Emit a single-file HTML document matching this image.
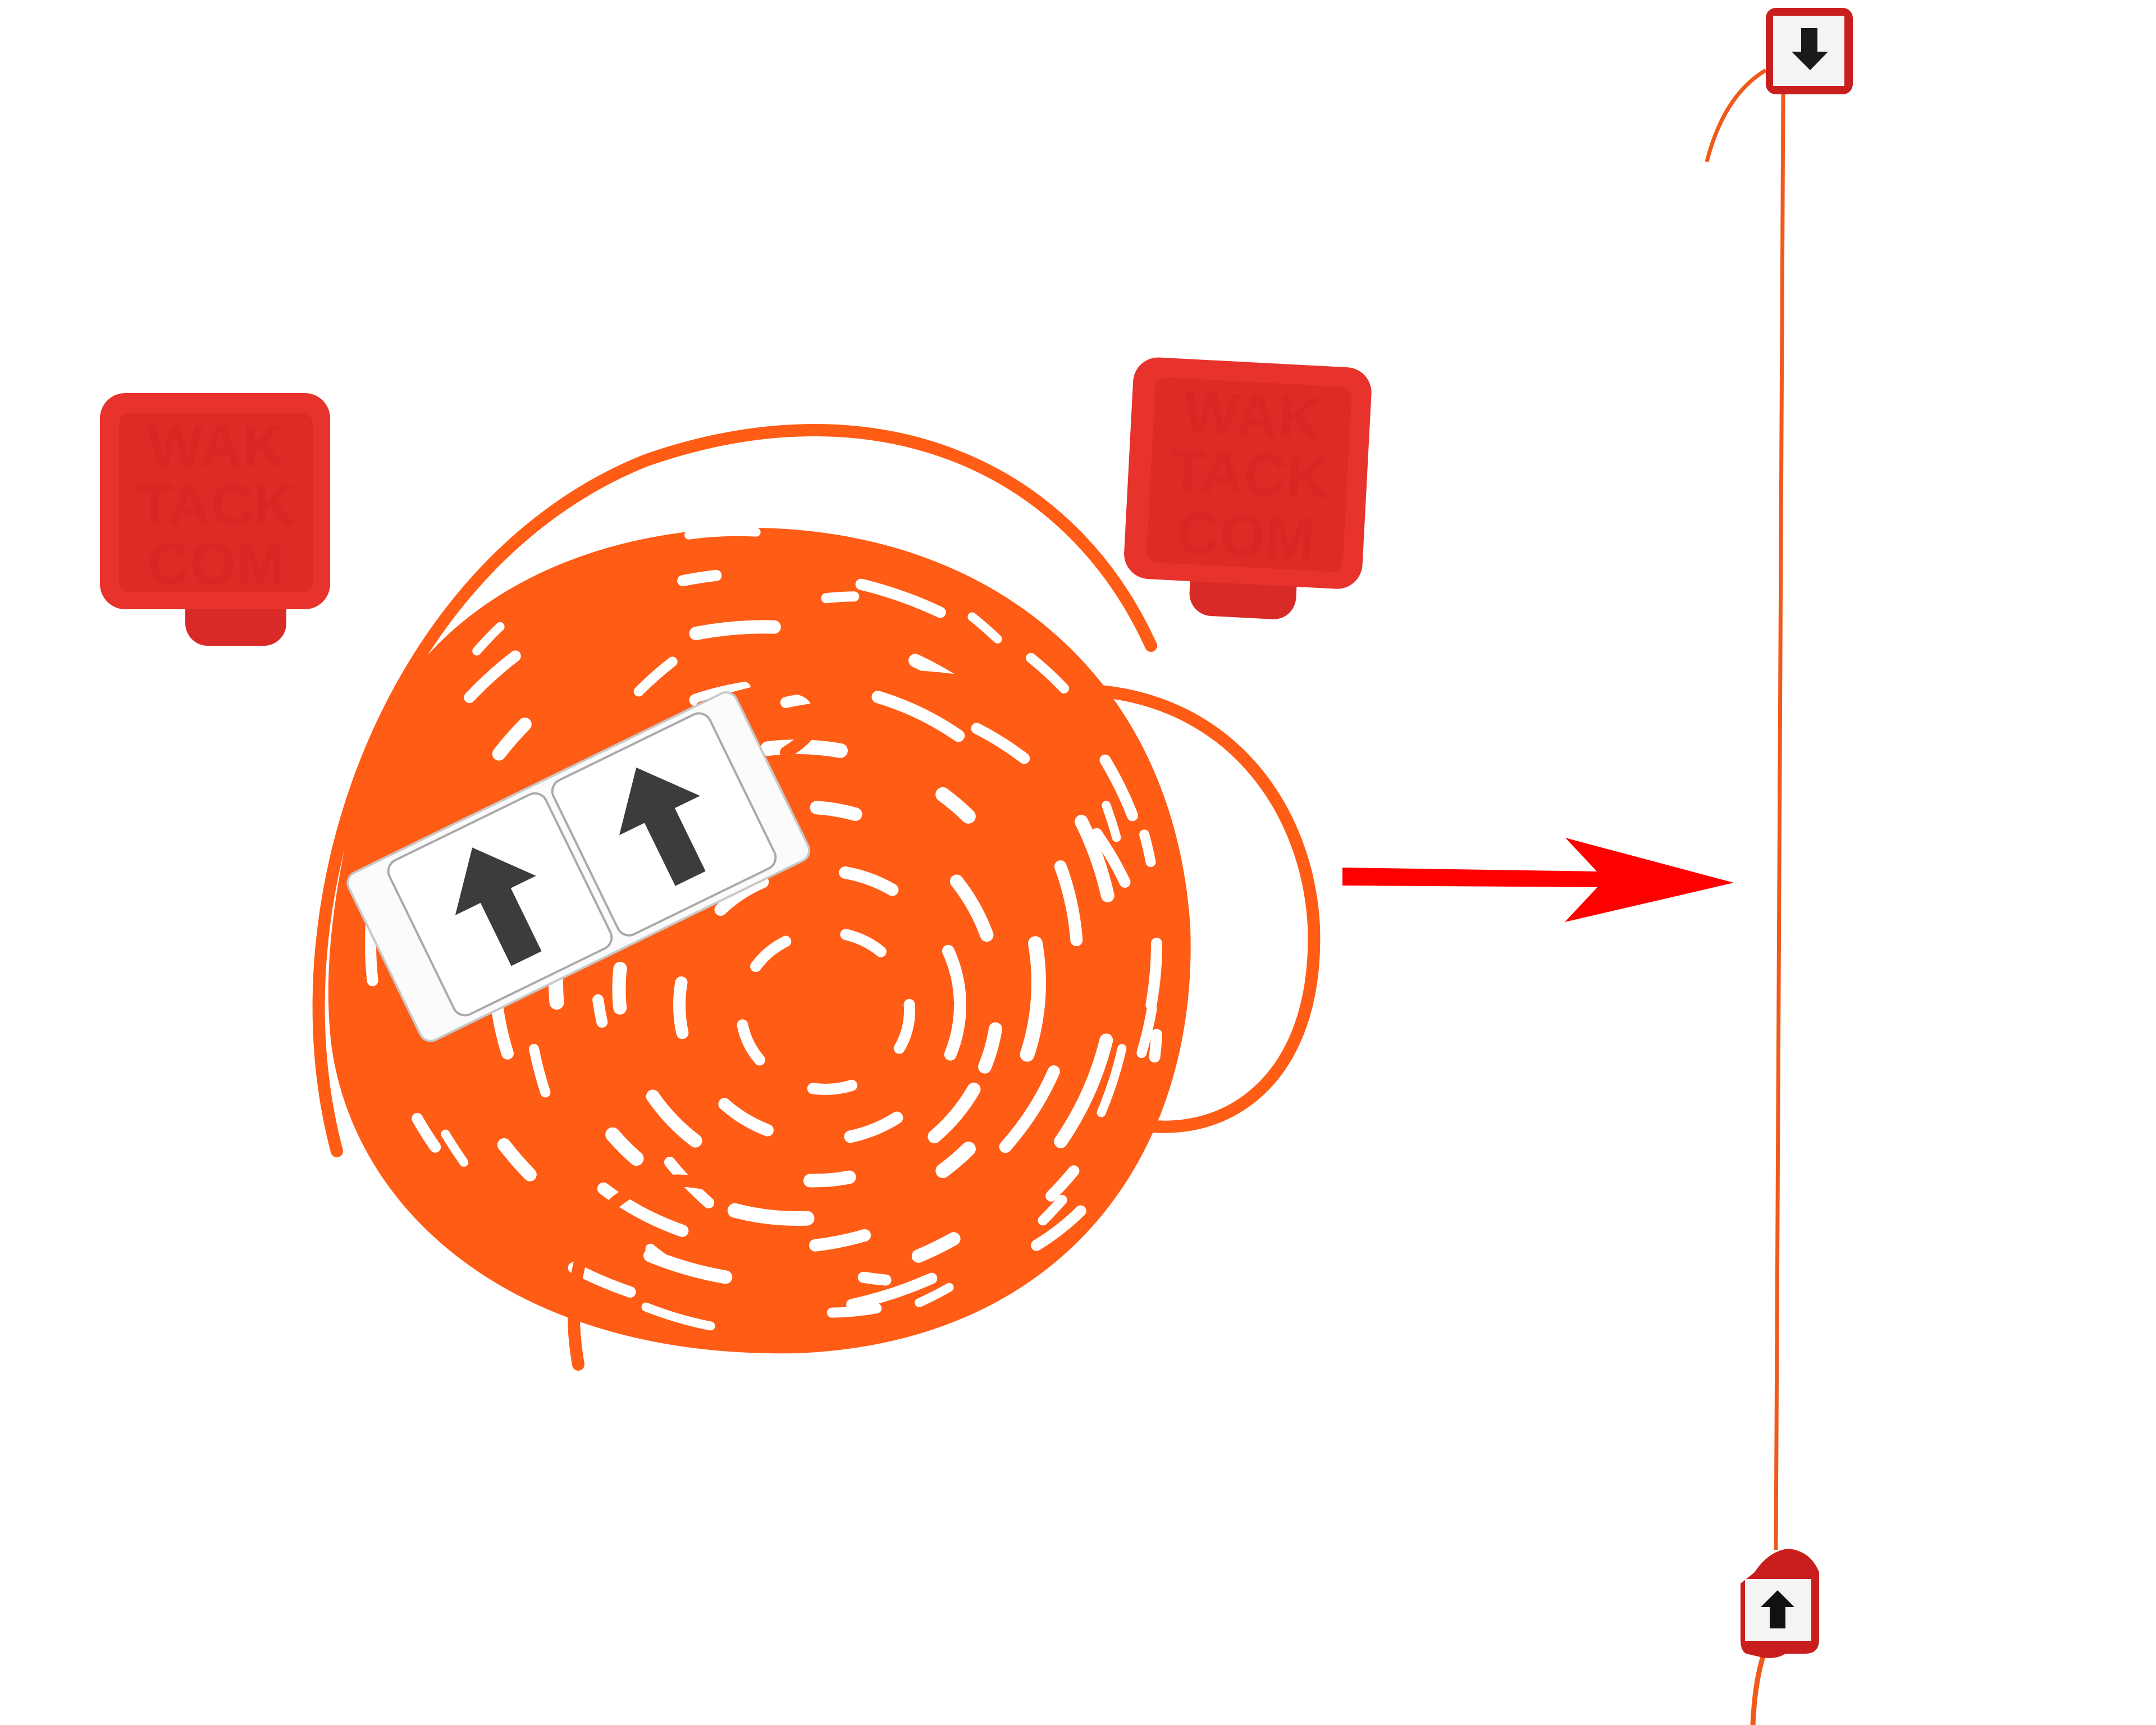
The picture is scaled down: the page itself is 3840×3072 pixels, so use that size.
<!DOCTYPE html>
<html><head><meta charset="utf-8"><style>
html,body{margin:0;padding:0;background:#fff;}
svg{display:block;}
</style></head><body>
<svg width="3840" height="3072" viewBox="0 0 3840 3072" xmlns="http://www.w3.org/2000/svg">
<rect width="3840" height="3072" fill="#fff"/>
<!-- left red block -->
<rect x="330" y="1040" width="180" height="110" rx="40" fill="#d82a26"/>
<rect x="178" y="700" width="410" height="385" rx="45" fill="#e8322c"/>
<rect x="212" y="735" width="345" height="320" rx="20" fill="#df2b26"/>
<g font-family="Liberation Sans, sans-serif" font-size="105" font-weight="bold" fill="#d42420" opacity="0.45" text-anchor="middle">
<text x="385" y="830">WAK</text><text x="385" y="935">TACK</text><text x="385" y="1040">COM</text></g>
<!-- right red block -->
<g transform="rotate(3 2220 840)">
<rect x="2130" y="990" width="190" height="110" rx="40" fill="#d82a26"/>
<rect x="2010" y="645" width="425" height="395" rx="45" fill="#e8322c"/>
<rect x="2050" y="680" width="350" height="330" rx="20" fill="#df2b26"/>
<g font-family="Liberation Sans, sans-serif" font-size="105" font-weight="bold" fill="#d42420" opacity="0.45" text-anchor="middle">
<text x="2225" y="775">WAK</text><text x="2225" y="880">TACK</text><text x="2225" y="990">COM</text></g>
</g>
<!-- coil body -->
<path d="M620 1480 C660 1150 950 950 1320 940 C1760 935 2090 1200 2120 1650 C2135 2050 1900 2390 1420 2410 C920 2420 630 2160 590 1860 C575 1730 595 1600 620 1480 Z" fill="#ff5c16"/>
<g fill="none" stroke="#fff" stroke-linecap="round">
<ellipse cx="1360" cy="1680" rx="700" ry="660" stroke-width="20" stroke-dasharray="110 330 60 260 150 400"/>
<ellipse cx="1380" cy="1700" rx="610" ry="580" stroke-width="24" stroke-dasharray="140 260 70 350" transform="rotate(20 1380 1700)"/>
<ellipse cx="1400" cy="1720" rx="520" ry="500" stroke-width="22" stroke-dasharray="90 240 160 300" transform="rotate(-15 1400 1720)"/>
<ellipse cx="1420" cy="1750" rx="430" ry="420" stroke-width="26" stroke-dasharray="130 200 60 260"/>
<ellipse cx="1440" cy="1770" rx="340" ry="330" stroke-width="24" stroke-dasharray="110 170 70 220" transform="rotate(30 1440 1770)"/>
<ellipse cx="1460" cy="1790" rx="250" ry="240" stroke-width="22" stroke-dasharray="90 150"/>
<ellipse cx="1470" cy="1800" rx="150" ry="140" stroke-width="20" stroke-dasharray="70 110"/>
<ellipse cx="1350" cy="1660" rx="660" ry="720" stroke-width="16" stroke-dasharray="60 380 120 420" transform="rotate(-20 1350 1660)"/>
<ellipse cx="1500" cy="1700" rx="560" ry="640" stroke-width="18" stroke-dasharray="80 300 50 340" transform="rotate(10 1500 1700)"/>
<ellipse cx="1560" cy="1760" rx="480" ry="540" stroke-width="20" stroke-dasharray="100 280 40 310" transform="rotate(-35 1560 1760)"/>
</g>
<g fill="none" stroke="#ff5c16" stroke-width="22" stroke-linecap="round">
<path d="M600 2050 C480 1600 700 1000 1150 820 C1550 680 1900 820 2050 1150"/>
<path d="M1950 1230 C2200 1250 2330 1450 2340 1650 C2350 1950 2150 2050 1980 1990"/>
<path d="M1400 1340 C1500 1280 1460 1200 1360 1230"/>
<path d="M1030 2430 C990 2200 1100 2050 1300 2120"/>
<path d="M1250 1260 C1500 1180 1700 1190 1900 1260"/>
</g>
<!-- labels -->
<g transform="rotate(-26 1030 1543)">
<rect x="646" y="1378" width="768" height="331" rx="20" fill="#fbfbfb" stroke="#c8c8c8" stroke-width="4"/>
<rect x="720" y="1390" width="310" height="305" rx="22" fill="#fff" stroke="#aaa" stroke-width="4"/>
<rect x="1045" y="1390" width="310" height="305" rx="22" fill="#fff" stroke="#aaa" stroke-width="4"/>
<polygon points="875,1430 955,1525 905,1525 905,1650 845,1650 845,1525 795,1525" fill="#3c3c3c"/>
<polygon points="1200,1430 1280,1525 1230,1525 1230,1650 1170,1650 1170,1525 1120,1525" fill="#3c3c3c"/>
</g>
<!-- red arrow -->
<polygon points="2391,1545 2850,1552 2850,1580 2391,1577" fill="#ff0000"/>
<polygon points="2788,1492 3088,1572 2787,1642 2847,1578 2847,1555" fill="#ff0000"/>
<!-- vertical string -->
<line x1="3176" y1="165" x2="3163" y2="2760" stroke="#f05a1a" stroke-width="7"/>
<path d="M3145 125 Q3070 170 3040 288" fill="none" stroke="#f05a1a" stroke-width="7"/>
<path d="M3140 2950 Q3125 3000 3122 3072" fill="none" stroke="#f05a1a" stroke-width="9"/>
<!-- top box -->
<rect x="3145" y="14" width="155" height="154" rx="18" fill="#c81e1e"/>
<rect x="3158" y="28" width="127" height="125" fill="#f4f4f4"/>
<polygon points="3224,125 3191,92 3208,92 3208,50 3237,50 3237,92 3256,92" fill="#1a1a1a"/>
<!-- bottom box -->
<path d="M3125 2800 Q3150 2762 3185 2758 Q3225 2762 3240 2800 L3240 2920 Q3240 2945 3215 2945 L3180 2945 Q3165 2955 3140 2952 L3110 2945 Q3100 2940 3100 2920 L3100 2820 Z" fill="#c81e1e"/>
<rect x="3108" y="2812" width="118" height="110" fill="#f4f4f4"/>
<polygon points="3166,2832 3196,2862 3180,2862 3180,2900 3152,2900 3152,2862 3136,2862" fill="#111"/>
</svg>
</body></html>
